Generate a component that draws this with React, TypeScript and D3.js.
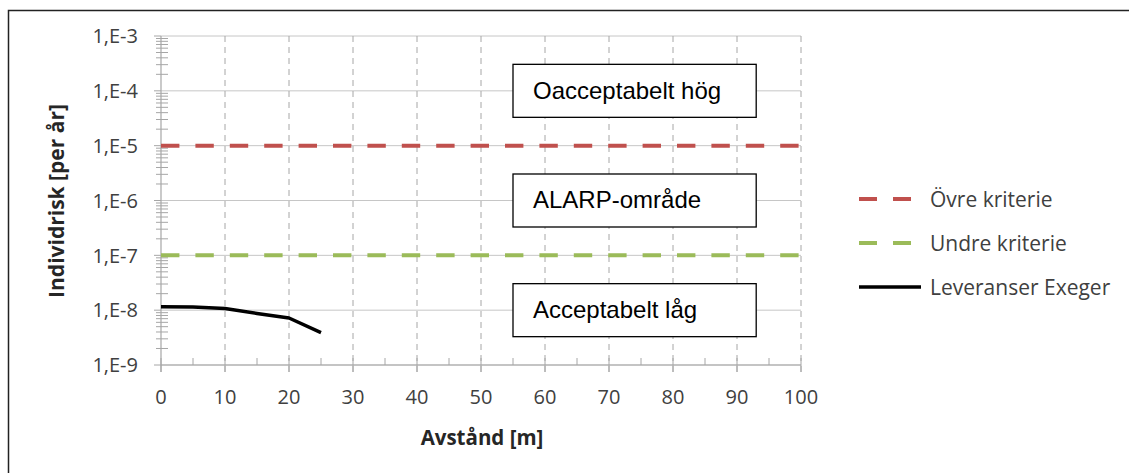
import React from "react";
import * as d3 from "d3";

const distance = [0, 5, 10, 15, 20, 25];
const risk = [1.15e-8, 1.14e-8, 1.07e-8, 8.7e-9, 7.2e-9, 3.9e-9];
const upperCriterion = 1e-5;
const lowerCriterion = 1e-7;
const xTicks = [0, 10, 20, 30, 40, 50, 60, 70, 80, 90, 100];
const xMinorTicks = [5, 15, 25, 35, 45, 55, 65, 75, 85, 95];
const yExponents = [-3, -4, -5, -6, -7, -8, -9];
const zones = [
  { label: "Oacceptabelt hög", center: 1e-4 },
  { label: "ALARP-område", center: 1e-6 },
  { label: "Acceptabelt låg", center: 1e-8 },
];
const legendItems = [
  { label: "Övre kriterie", color: "#c0504d", dashed: true },
  { label: "Undre kriterie", color: "#9bbb59", dashed: true },
  { label: "Leveranser Exeger", color: "#000000", dashed: false },
];

const tickFont = "'Open Sans', 'Noto Sans', sans-serif";
const boxFont = "'Liberation Sans', Arial, sans-serif";

export default function App() {
  const W = 1129;
  const H = 473;
  const left = 161, right = 801, top = 36, bottom = 365;

  const x = d3.scaleLinear().domain([0, 100]).range([left, right]);
  const y = d3.scaleLog().domain([1e-9, 1e-3]).range([bottom, top]);

  const minorY: number[] = [];
  for (let e = -9; e < -3; e++) {
    for (let m = 2; m < 10; m++) minorY.push(m * Math.pow(10, e));
  }

  const line = d3
    .line<number>()
    .x((_, i) => x(distance[i]))
    .y((d) => y(d));

  return (
    <svg width={W} height={H} style={{ position: "absolute", left: 0, top: 0 }}>
      <rect x={0} y={0} width={W} height={H} fill="#fff" />
      <rect x={8.5} y={10.5} width={W + 20} height={H + 20} fill="none" stroke="#222" strokeWidth={1.5} />

      {/* horizontal gridlines at decades */}
      {yExponents.map((e) => (
        <line key={"hg" + e} x1={left} x2={right} y1={y(Math.pow(10, e))} y2={y(Math.pow(10, e))} stroke="#c6c6c6" strokeWidth={1} />
      ))}
      {/* vertical dashed gridlines */}
      {xTicks.slice(1).map((t) => (
        <line key={"vg" + t} x1={x(t)} x2={x(t)} y1={top} y2={bottom + 7} stroke="#a6a6a6" strokeWidth={1} strokeDasharray="6,5" />
      ))}

      {/* y axis */}
      <line x1={left} x2={left} y1={top} y2={bottom + 7} stroke="#a6a6a6" strokeWidth={1.2} />
      {minorY.map((v, i) => (
        <line key={"my" + i} x1={left - 5} x2={left + 7} y1={y(v)} y2={y(v)} stroke="#a6a6a6" strokeWidth={1} />
      ))}
      {yExponents.map((e) => (
        <line key={"ty" + e} x1={left - 7} x2={left} y1={y(Math.pow(10, e))} y2={y(Math.pow(10, e))} stroke="#a6a6a6" strokeWidth={1} />
      ))}
      {yExponents.map((e) => (
        <text key={"yl" + e} x={138} y={y(Math.pow(10, e))} dy="0.36em" textAnchor="end" fontFamily={tickFont} fontSize={20} fill="#404040">
          {`1,E${e}`}
        </text>
      ))}

      {/* x axis */}
      <line x1={left} x2={right} y1={bottom} y2={bottom} stroke="#a6a6a6" strokeWidth={1.2} />
      {xTicks.map((t) => (
        <line key={"tx" + t} x1={x(t)} x2={x(t)} y1={bottom - 7} y2={bottom + 7} stroke="#a6a6a6" strokeWidth={1} />
      ))}
      {xMinorTicks.map((t) => (
        <line key={"mx" + t} x1={x(t)} x2={x(t)} y1={bottom - 7} y2={bottom} stroke="#a6a6a6" strokeWidth={1} />
      ))}
      {xTicks.map((t) => (
        <text key={"xl" + t} x={x(t)} y={404} textAnchor="middle" fontFamily={tickFont} fontSize={20} fill="#404040">
          {t}
        </text>
      ))}

      {/* criteria */}
      <line x1={left} x2={right} y1={y(upperCriterion)} y2={y(upperCriterion)} stroke="#c0504d" strokeWidth={4} strokeDasharray="18.4,16" />
      <line x1={left} x2={right} y1={y(lowerCriterion)} y2={y(lowerCriterion)} stroke="#9bbb59" strokeWidth={4} strokeDasharray="18.4,16" />

      {/* data line */}
      <path d={line(risk) ?? ""} fill="none" stroke="#000" strokeWidth={3.5} strokeLinejoin="round" />

      {/* zone boxes */}
      {zones.map((z) => (
        <g key={z.label}>
          <rect x={x(55)} y={y(z.center) - 26.5} width={x(93) - x(55)} height={53} fill="#fff" stroke="#000" strokeWidth={1.3} />
          <text x={x(55) + 20} y={y(z.center)} dy="0.33em" fontFamily={boxFont} fontSize={24} fill="#000">
            {z.label}
          </text>
        </g>
      ))}

      {/* axis titles */}
      <text x={482} y={445} textAnchor="middle" fontFamily={tickFont} fontWeight="bold" fontSize={20.5} fill="#262626">
        Avstånd [m]
      </text>
      <text transform={`translate(64,201) rotate(-90)`} textAnchor="middle" fontFamily={tickFont} fontWeight="bold" fontSize={21} fill="#262626">
        Individrisk [per år]
      </text>

      {/* legend */}
      {legendItems.map((it, i) => {
        const ly = 199 + i * 44;
        return (
          <g key={it.label}>
            <line x1={859} x2={it.dashed ? 911 : 921} y1={ly} y2={ly} stroke={it.color} strokeWidth={it.dashed ? 4 : 3.5} strokeDasharray={it.dashed ? "18,16" : undefined} />
            <text x={930} y={ly} dy="0.36em" fontFamily={tickFont} fontSize={21} fill="#404040">
              {it.label}
            </text>
          </g>
        );
      })}
    </svg>
  );
}
